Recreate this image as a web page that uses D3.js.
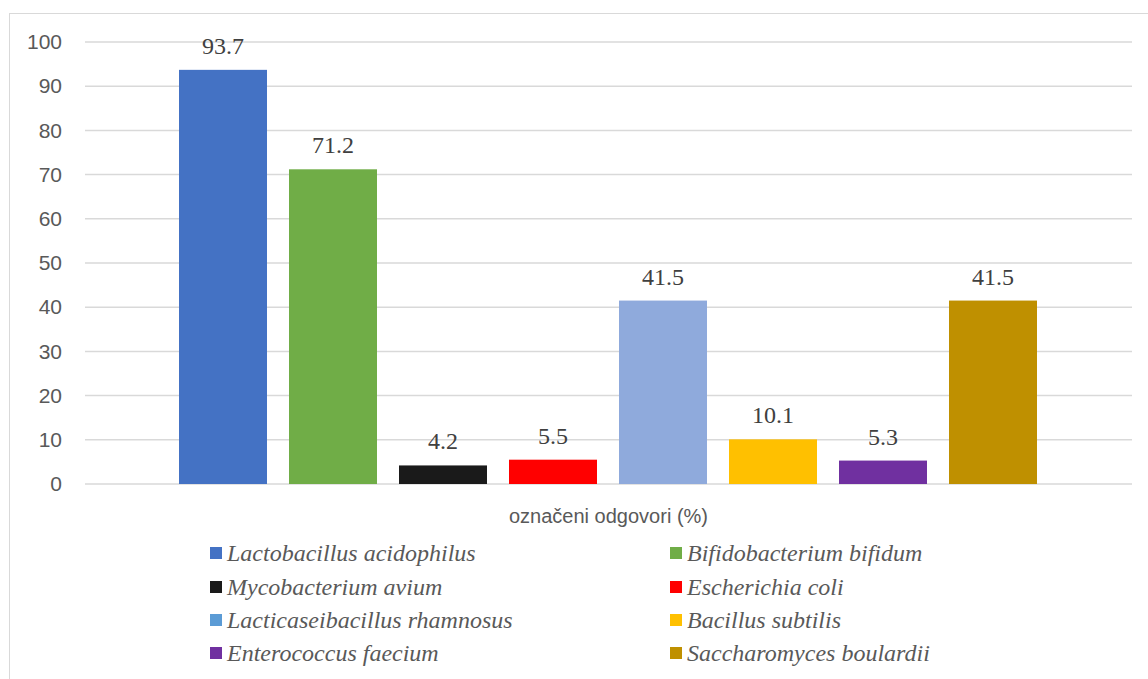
<!DOCTYPE html>
<html>
<head>
<meta charset="utf-8">
<script src="https://cdn.jsdelivr.net/npm/d3@7"></script>
<style>
  body { margin: 0; background: #fff; }
</style>
</head>
<body>
<div class="chart-container"></div>
<script>
const category = "označeni odgovori (%)";
const seriesNames = [
    "Lactobacillus acidophilus", "Bifidobacterium bifidum", "Mycobacterium avium",
    "Escherichia coli", "Lacticaseibacillus rhamnosus", "Bacillus subtilis",
    "Enterococcus faecium", "Saccharomyces boulardii"
];
const seriesValues = [93.7, 71.2, 4.2, 5.5, 41.5, 10.1, 5.3, 41.5];
const barColors = ["#4472C4", "#70AD47", "#1a1a1a", "#FF0000", "#8FAADC", "#FFC000", "#7030A0", "#BF9000"];
const legendColors = ["#4472C4", "#70AD47", "#1a1a1a", "#FF0000", "#5B9BD5", "#FFC000", "#7030A0", "#BF9000"];
const yTicks = [0, 10, 20, 30, 40, 50, 60, 70, 80, 90, 100];

const width = 1148, height = 679;
const plot = { left: 85, right: 1132, top: 42, bottom: 484 };

const svg = d3.select(".chart-container")
    .append("svg")
    .attr("width", width)
    .attr("height", height);

// outer frame
svg.append("rect")
    .attr("x", 9.5).attr("y", 13.5)
    .attr("width", 1160).attr("height", 700)
    .attr("fill", "none")
    .attr("stroke", "#d9d9d9");

const y = d3.scaleLinear().domain([0, 100]).range([plot.bottom, plot.top]);

const x0 = d3.scaleBand()
    .domain([category])
    .range([plot.left, plot.right]);

const x1 = d3.scaleBand()
    .domain(seriesNames)
    .range([x0(category) + 83, x0(category) + x0.bandwidth() - 84])
    .paddingInner(0.2)
    .paddingOuter(0.1);

// gridlines
svg.append("g")
    .selectAll("line")
    .data(yTicks)
    .join("line")
    .attr("x1", plot.left).attr("x2", plot.right)
    .attr("y1", d => y(d)).attr("y2", d => y(d))
    .attr("stroke", "#d9d9d9")
    .attr("stroke-width", 1.5);

// y axis labels
const yAxis = svg.append("g")
    .attr("transform", `translate(${plot.left - 23},0)`)
    .call(d3.axisLeft(y).tickValues(yTicks).tickSize(0).tickPadding(0));
yAxis.select(".domain").remove();
yAxis.selectAll("text")
    .attr("fill", "#595959")
    .style("font-family", "'Liberation Sans', Arial, sans-serif")
    .style("font-size", "21px");

// bars
svg.append("g")
    .selectAll("rect")
    .data(seriesValues)
    .join("rect")
    .attr("x", (d, i) => x1(seriesNames[i]))
    .attr("y", d => y(d))
    .attr("width", x1.bandwidth())
    .attr("height", d => y(0) - y(d))
    .attr("fill", (d, i) => barColors[i]);

// value labels
svg.append("g")
    .selectAll("text")
    .data(seriesValues)
    .join("text")
    .attr("x", (d, i) => x1(seriesNames[i]) + x1.bandwidth() / 2)
    .attr("y", d => y(d) - 16)
    .attr("text-anchor", "middle")
    .attr("fill", "#404040")
    .style("font-family", "'Liberation Serif', 'Times New Roman', serif")
    .style("font-size", "24px")
    .text(d => d.toFixed(1));

// category axis title
svg.append("text")
    .attr("x", x0(category) + x0.bandwidth() / 2)
    .attr("y", 523)
    .attr("text-anchor", "middle")
    .attr("fill", "#595959")
    .style("font-family", "'Liberation Sans', Arial, sans-serif")
    .style("font-size", "20px")
    .text(category);

// legend
const legendRows = [553, 587, 620, 653];
const legendCols = [210, 670];
const legend = svg.append("g")
    .selectAll("g")
    .data(seriesNames)
    .join("g")
    .attr("transform", (d, i) => `translate(${legendCols[i % 2]},${legendRows[Math.floor(i / 2)]})`);

legend.append("rect")
    .attr("x", 0).attr("y", -6)
    .attr("width", 12).attr("height", 12)
    .attr("fill", (d, i) => legendColors[i]);

legend.append("text")
    .attr("x", 17)
    .attr("y", 8)
    .attr("fill", "#595959")
    .style("font-family", "'Liberation Serif', 'Times New Roman', serif")
    .style("font-style", "italic")
    .style("font-size", "24px")
    .text(d => d);
</script>
</body>
</html>
